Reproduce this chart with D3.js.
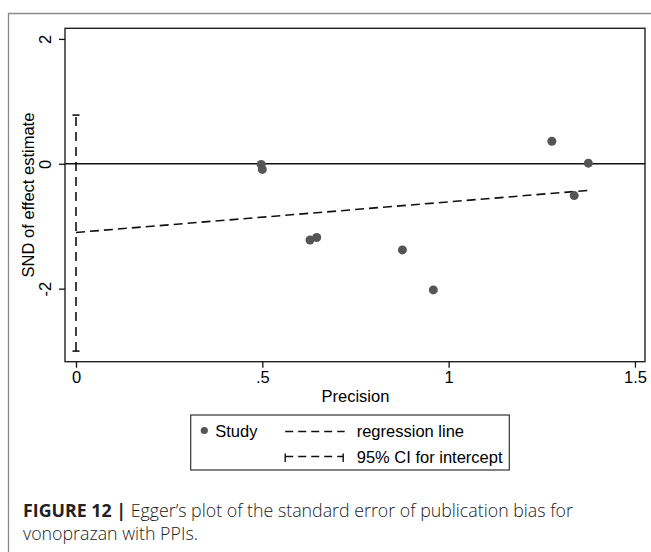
<!DOCTYPE html>
<html>
<head>
<meta charset="utf-8">
<script src="https://cdn.jsdelivr.net/npm/d3@7"></script>
<style>
  body { margin: 0; background: #fff; }
  svg { display: block; }
</style>
</head>
<body>
<div id="wrapper"></div>
<script>
// studies: precision vs standard normal deviate
const precision = [0.497, 0.500, 0.628, 0.646, 0.876, 0.959, 1.277, 1.337, 1.375]
const snd = [-0.01, -0.09, -1.22, -1.18, -1.38, -2.02, 0.36, -0.51, 0.01]

// Egger regression line and CI for the intercept
const regIntercept = -1.10
const regSlope = 0.49
const regXRange = [0, 1.375]
const ciIntercept = [-3.0, 0.78]

const xTicks = [0, 0.5, 1, 1.5]
const xTickLabels = ["0", ".5", "1", "1.5"]
const yTicks = [-2, 0, 2]
const yTickLabels = ["-2", "0", "2"]

function drawEgger() {

  let dimensions = {
    width: 651,
    height: 552,
    margin: {
      top: 28.3,
      right: 6,
      bottom: 190.3,
      left: 65,
    },
  }
  dimensions.boundedWidth = dimensions.width - dimensions.margin.left - dimensions.margin.right
  dimensions.boundedHeight = dimensions.height - dimensions.margin.top - dimensions.margin.bottom

  const font = "'Liberation Sans', Arial, Helvetica, sans-serif"

  const wrapper = d3.select("#wrapper")
    .append("svg")
      .attr("width", dimensions.width)
      .attr("height", dimensions.height)

  // outer figure frame (top + left only)
  wrapper.append("path")
      .attr("d", "M8.5,552 V13.5 H651")
      .attr("fill", "none")
      .attr("stroke", "#8a8a8a")
      .attr("stroke-width", 1.3)

  const bounds = wrapper.append("g")
      .attr("transform", `translate(${dimensions.margin.left}, ${dimensions.margin.top})`)

  const xScale = d3.scaleLinear()
    .domain([-0.0295, 1.527])
    .range([0, dimensions.boundedWidth])

  const yScale = d3.scaleLinear()
    .domain([-3.17, 2.17])
    .range([dimensions.boundedHeight, 0])

  // plot region outline
  bounds.append("rect")
      .attr("width", dimensions.boundedWidth)
      .attr("height", dimensions.boundedHeight)
      .attr("fill", "none")
      .attr("stroke", "#222")
      .attr("stroke-width", 1.4)

  // zero reference line
  bounds.append("line")
      .attr("x1", 0)
      .attr("x2", dimensions.boundedWidth)
      .attr("y1", yScale(0))
      .attr("y2", yScale(0))
      .attr("stroke", "#111")
      .attr("stroke-width", 1.6)

  // CI for intercept (capped spike at x = 0)
  const capHalf = 3.5
  bounds.append("line")
      .attr("x1", xScale(0))
      .attr("x2", xScale(0))
      .attr("y1", yScale(ciIntercept[0]))
      .attr("y2", yScale(ciIntercept[1]))
      .attr("stroke", "#111")
      .attr("stroke-width", 1.6)
      .attr("stroke-dasharray", "9,6")
  bounds.selectAll(".cap")
    .data(ciIntercept)
    .enter().append("line")
      .attr("class", "cap")
      .attr("x1", xScale(0) - capHalf)
      .attr("x2", xScale(0) + capHalf)
      .attr("y1", d => yScale(d))
      .attr("y2", d => yScale(d))
      .attr("stroke", "#111")
      .attr("stroke-width", 1.6)

  // regression line
  const regLine = d3.line()
    .x(d => xScale(d))
    .y(d => yScale(regIntercept + regSlope * d))
  bounds.append("path")
      .attr("d", regLine(regXRange))
      .attr("fill", "none")
      .attr("stroke", "#111")
      .attr("stroke-width", 1.6)
      .attr("stroke-dasharray", "9,5")

  // studies
  bounds.selectAll(".study")
    .data(precision)
    .enter().append("circle")
      .attr("class", "study")
      .attr("cx", d => xScale(d))
      .attr("cy", (d, i) => yScale(snd[i]))
      .attr("r", 4.5)
      .attr("fill", "#555")

  // x axis
  const xAxisGenerator = d3.axisBottom()
    .scale(xScale)
    .tickValues(xTicks)
    .tickFormat((d, i) => xTickLabels[i])
    .tickSize(6)
    .tickPadding(4)

  const xAxis = bounds.append("g")
      .call(xAxisGenerator)
      .attr("transform", `translate(0, ${dimensions.boundedHeight})`)
  xAxis.select(".domain").remove()
  xAxis.selectAll("line").attr("stroke", "#111").attr("stroke-width", 1.3)
  xAxis.selectAll("text")
      .attr("fill", "#000")
      .style("font-family", font)
      .style("font-size", "16.5px")

  xAxis.append("text")
      .attr("x", xScale(0.75))
      .attr("y", 40)
      .attr("fill", "#000")
      .style("font-family", font)
      .style("font-size", "16.5px")
      .style("text-anchor", "middle")
      .text("Precision")

  // y axis
  const yAxisGenerator = d3.axisLeft()
    .scale(yScale)
    .tickValues(yTicks)
    .tickFormat((d, i) => yTickLabels[i])
    .tickSize(6)

  const yAxis = bounds.append("g")
      .call(yAxisGenerator)
  yAxis.select(".domain").remove()
  yAxis.selectAll("line").attr("stroke", "#111").attr("stroke-width", 1.3)
  yAxis.selectAll("text")
      .attr("x", 0)
      .attr("y", 0)
      .attr("dy", 0)
      .attr("transform", "translate(-14, 0) rotate(-90)")
      .attr("fill", "#000")
      .style("text-anchor", "middle")
      .style("font-family", font)
      .style("font-size", "16.5px")

  yAxis.append("text")
      .attr("transform", `translate(-31, ${dimensions.boundedHeight / 2}) rotate(-90)`)
      .attr("fill", "#000")
      .style("font-family", font)
      .style("font-size", "16.5px")
      .style("text-anchor", "middle")
      .text("SND of effect estimate")

  // legend
  const legend = wrapper.append("g")
      .attr("transform", "translate(190.7, 415)")

  legend.append("rect")
      .attr("width", 318.6)
      .attr("height", 55)
      .attr("fill", "#fff")
      .attr("stroke", "#333")
      .attr("stroke-width", 1.2)

  legend.append("circle")
      .attr("cx", 13.6)
      .attr("cy", 15.5)
      .attr("r", 3.6)
      .attr("fill", "#555")
  legend.append("text")
      .attr("x", 24.5)
      .attr("y", 21.5)
      .style("font-family", font)
      .style("font-size", "16.5px")
      .text("Study")

  legend.append("line")
      .attr("x1", 94.5)
      .attr("x2", 154)
      .attr("y1", 16.5)
      .attr("y2", 16.5)
      .attr("stroke", "#111")
      .attr("stroke-width", 1.4)
      .attr("stroke-dasharray", "8,5")
  legend.append("text")
      .attr("x", 166)
      .attr("y", 22)
      .style("font-family", font)
      .style("font-size", "16.5px")
      .text("regression line")

  legend.append("line")
      .attr("x1", 94.5)
      .attr("x2", 152.5)
      .attr("y1", 41.5)
      .attr("y2", 41.5)
      .attr("stroke", "#111")
      .attr("stroke-width", 1.4)
      .attr("stroke-dasharray", "8,5")
  legend.selectAll(".lcap")
    .data([94.5, 152.5])
    .enter().append("line")
      .attr("class", "lcap")
      .attr("x1", d => d)
      .attr("x2", d => d)
      .attr("y1", 38.5)
      .attr("y2", 47)
      .attr("stroke", "#111")
      .attr("stroke-width", 1.4)
  legend.append("text")
      .attr("x", 166)
      .attr("y", 48)
      .style("font-family", font)
      .style("font-size", "16.5px")
      .text("95% CI for intercept")

  // caption
  const captionFont = "'Open Sans', 'Noto Sans', sans-serif"
  const caption = wrapper.append("text")
      .attr("x", 23)
      .attr("y", 517)
      .attr("fill", "#222")
      .style("font-family", captionFont)
      .style("font-size", "17.8px")
  caption.append("tspan")
      .style("font-weight", "bold")
      .text("FIGURE 12 | ")
  caption.append("tspan")
      .style("font-weight", "300")
      .text("Egger\u2019s plot of the standard error of publication bias for")

  wrapper.append("text")
      .attr("x", 23)
      .attr("y", 540)
      .attr("fill", "#222")
      .style("font-family", captionFont)
      .style("font-size", "17.8px")
      .style("font-weight", "300")
      .text("vonoprazan with PPIs.")
}

drawEgger()
</script>
</body>
</html>
